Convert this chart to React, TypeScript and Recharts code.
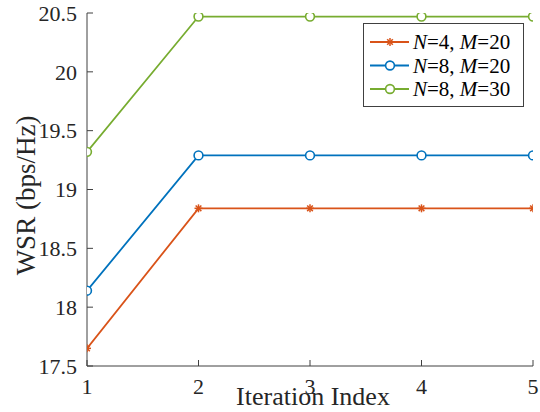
import React from 'react';
import { LineChart, Line, XAxis, YAxis, Legend } from 'recharts';

const iterations = [1, 2, 3, 4, 5];
const wsrN4M20 = [17.65, 18.84, 18.84, 18.84, 18.84];
const wsrN8M20 = [18.14, 19.29, 19.29, 19.29, 19.29];
const wsrN8M30 = [19.32, 20.47, 20.47, 20.47, 20.47];
const yTicks = [17.5, 18, 18.5, 19, 19.5, 20, 20.5];
const xTicks = [1, 2, 3, 4, 5];

const data = iterations.map((it, i) => ({
  it,
  a: wsrN4M20[i],
  b: wsrN8M20[i],
  c: wsrN8M30[i],
}));

const FONT = 'Liberation Serif, Tinos, Times New Roman, DejaVu Serif, serif';
const AXIS = '#404040';
const ORANGE = '#D95319';
const BLUE = '#0072BD';
const GREEN = '#77AC30';
const LW = 1.8;

const Star = (props: any) => {
  const { cx, cy, stroke } = props;
  if (cx == null || cy == null) return null;
  const r = 4;
  const d = r * 0.707;
  return (
    <g stroke={stroke} strokeWidth={1.5}>
      <line x1={cx - r} y1={cy} x2={cx + r} y2={cy} />
      <line x1={cx} y1={cy - r} x2={cx} y2={cy + r} />
      <line x1={cx - d} y1={cy - d} x2={cx + d} y2={cy + d} />
      <line x1={cx - d} y1={cy + d} x2={cx + d} y2={cy - d} />
    </g>
  );
};

const Circ = (props: any) => {
  const { cx, cy, stroke } = props;
  if (cx == null || cy == null) return null;
  return <circle cx={cx} cy={cy} r={4.4} fill="#fff" stroke={stroke} strokeWidth={1.6} />;
};

const legendItems = [
  { n: '4', m: '20', color: ORANGE, marker: 'star' },
  { n: '8', m: '20', color: BLUE, marker: 'circle' },
  { n: '8', m: '30', color: GREEN, marker: 'circle' },
];

const LegendBox = () => (
  <svg width={161} height={84} style={{ display: 'block' }}>
    <rect x={0.5} y={0.5} width={160} height={83} fill="#fff" stroke={AXIS} strokeWidth={1} />
    {legendItems.map((it, i) => {
      const y = 19 + i * 23.5;
      return (
        <g key={i}>
          <line x1={7} y1={y} x2={46} y2={y} stroke={it.color} strokeWidth={LW} />
          {it.marker === 'star' ? (
            <Star cx={27} cy={y} stroke={it.color} />
          ) : (
            <Circ cx={27} cy={y} stroke={it.color} />
          )}
          <text x={50} y={y + 7} style={{ fontFamily: FONT }} fontSize={21} fill="#000">
            <tspan fontStyle="italic">N</tspan>
            <tspan>{`=${it.n}, `}</tspan>
            <tspan fontStyle="italic">M</tspan>
            <tspan>{`=${it.m}`}</tspan>
          </text>
        </g>
      );
    })}
  </svg>
);

const YLabel = (props: any) => {
  const vb = props.viewBox || {};
  const x = (vb.x ?? 0) + 26;
  const y = (vb.y ?? 0) + (vb.height ?? 0) / 2 + 6;
  return (
    <text
      x={x}
      y={y}
      transform={`rotate(-90, ${x}, ${y})`}
      textAnchor="middle"
      dominantBaseline="central"
      style={{ fontFamily: FONT }}
      fontSize={27}
      fill="#262626"
    >
      WSR (bps/Hz)
    </text>
  );
};

const XLabel = (props: any) => {
  const vb = props.viewBox || {};
  const x = (vb.x ?? 0) + (vb.width ?? 0) / 2 + 3;
  const y = (vb.y ?? 0) + 39;
  return (
    <text x={x} y={y} textAnchor="middle" style={{ fontFamily: FONT }} fontSize={26} fill="#262626">
      Iteration Index
    </text>
  );
};

const tickStyle = { fontFamily: FONT, fontSize: 22, fill: '#262626', style: { fontFamily: FONT } };

export default function App() {
  return (
    <div style={{ position: 'absolute', left: 0, top: 0, fontFamily: FONT }}>
      <LineChart
        width={540}
        height={412}
        data={data}
        margin={{ top: 13, right: 7, left: 0, bottom: 0 }}
        style={{ fontFamily: FONT }}
      >
        <XAxis
          dataKey="it"
          type="number"
          domain={[1, 5]}
          ticks={xTicks}
          allowDataOverflow
          height={46}
          stroke={AXIS}
          tickSize={-6}
          tickMargin={18}
          tick={tickStyle}
          label={<XLabel />}
        />
        <XAxis
          xAxisId="top"
          orientation="top"
          type="number"
          domain={[1, 5]}
          ticks={xTicks}
          allowDataOverflow
          height={0}
          stroke={AXIS}
          tickSize={-6}
          tickFormatter={() => ''}
        />
        <YAxis
          type="number"
          domain={[17.5, 20.5]}
          ticks={yTicks}
          allowDataOverflow
          width={87}
          stroke={AXIS}
          tickSize={-6}
          tickMargin={16}
          tick={tickStyle}
          tickFormatter={(v: number) => String(v)}
          label={<YLabel />}
        />
        <YAxis
          yAxisId="right"
          orientation="right"
          type="number"
          domain={[17.5, 20.5]}
          ticks={yTicks}
          allowDataOverflow
          width={0}
          stroke={AXIS}
          tickSize={-6}
          tickFormatter={() => ''}
        />
        <Legend
          layout="vertical"
          align="center"
          verticalAlign="middle"
          wrapperStyle={{ left: 363, top: 23, width: 161, height: 84 }}
          content={() => <LegendBox />}
        />
        <Line
          dataKey="a"
          name="N=4, M=20"
          stroke={ORANGE}
          strokeWidth={LW}
          dot={<Star />}
          isAnimationActive={false}
        />
        <Line
          dataKey="b"
          name="N=8, M=20"
          stroke={BLUE}
          strokeWidth={LW}
          dot={<Circ />}
          isAnimationActive={false}
        />
        <Line
          dataKey="c"
          name="N=8, M=30"
          stroke={GREEN}
          strokeWidth={LW}
          dot={<Circ />}
          isAnimationActive={false}
        />
      </LineChart>
    </div>
  );
}
